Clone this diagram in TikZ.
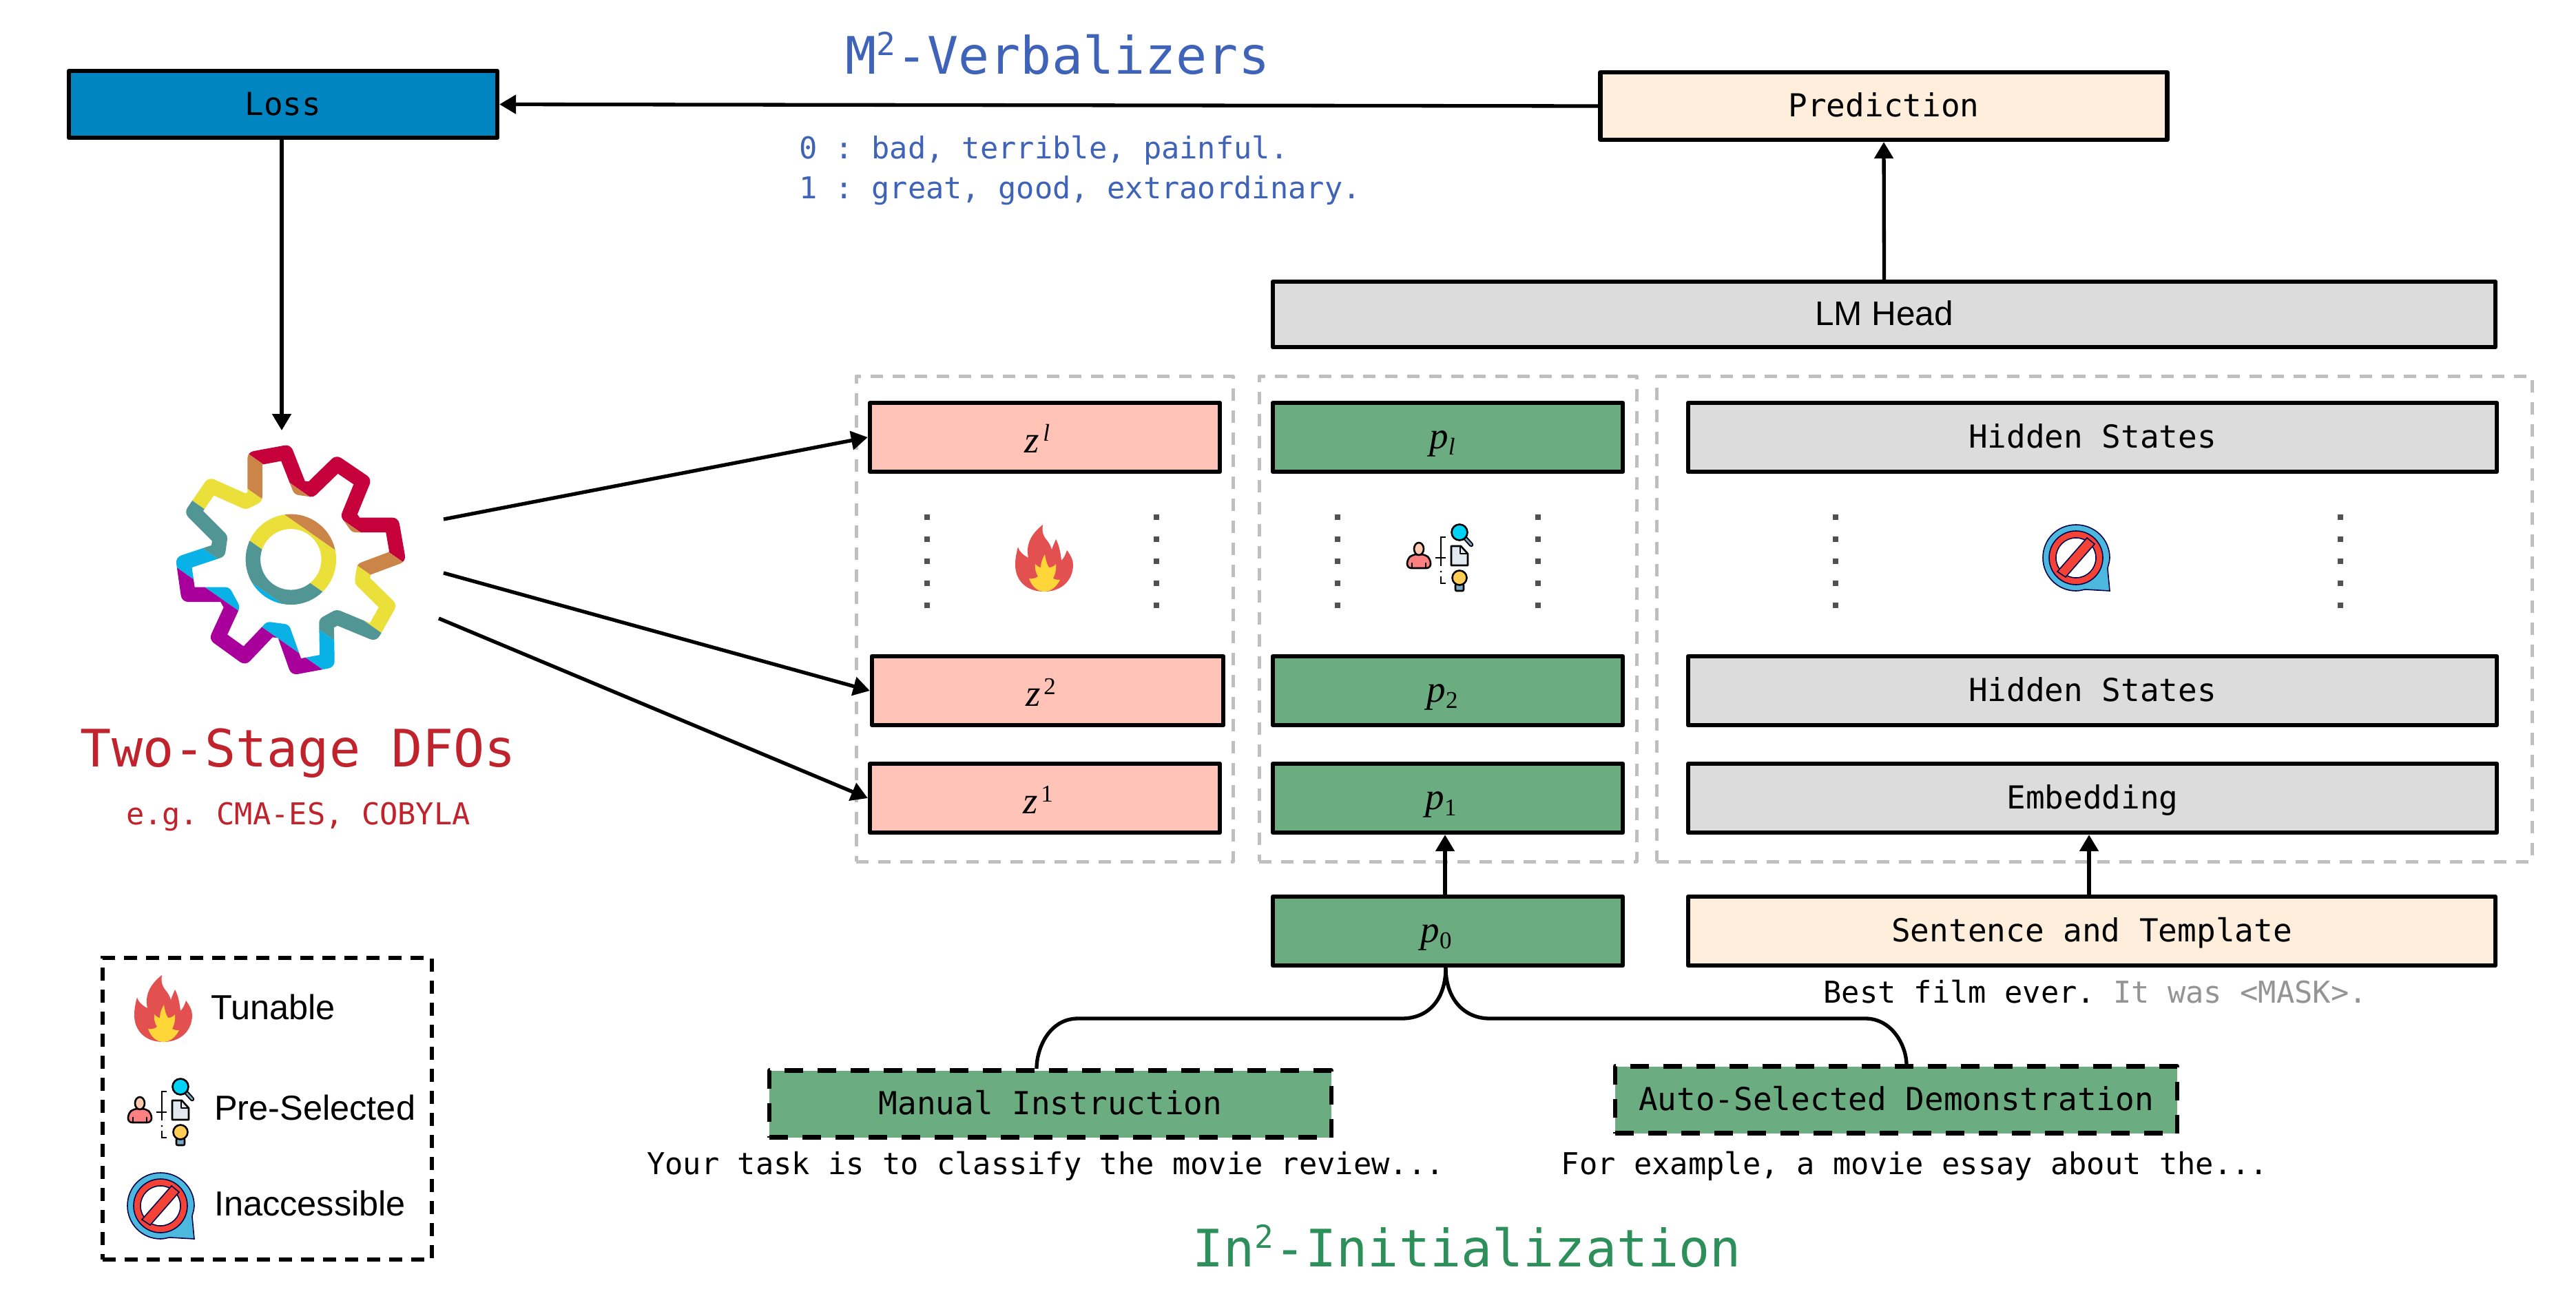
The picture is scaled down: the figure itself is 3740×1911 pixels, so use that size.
\documentclass[tikz,border=0pt]{standalone}
\usepackage{fontspec}
\usetikzlibrary{arrows.meta}
\setmainfont{Liberation Sans}
\newfontfamily\monof{DejaVu Sans Mono}
\newfontfamily\mathf{Liberation Serif}
\newcommand\fs[1]{\fontsize{#1}{#1}\selectfont}
\newcommand\lowsub[1]{\raisebox{-9pt}{\fs{35}#1}}
\newcommand\upsup[1]{\kern5pt\raisebox{17pt}{\fs{35}#1}}
\newcommand\bigtwo{\raisebox{26.5pt}{\fs{46}2}\kern1.3pt}
\newcommand\tallstrut{\rule{0pt}{45pt}}
\frenchspacing
\definecolor{cpink}{HTML}{FFC3B8}
\definecolor{cgreen}{HTML}{6BAD80}
\definecolor{cgray}{HTML}{DCDCDC}
\definecolor{ccream}{HTML}{FFEEDC}
\definecolor{cblue}{HTML}{0085C0}
\definecolor{tblue}{HTML}{3F63B8}
\definecolor{tred}{HTML}{C0232C}
\definecolor{tgreen}{HTML}{2D8F5A}
\definecolor{gcrim}{HTML}{C6003A}
\definecolor{gorange}{HTML}{CC8548}
\definecolor{gyellow}{HTML}{EBDF3A}
\definecolor{gteal}{HTML}{519595}
\definecolor{gcyan}{HTML}{08B2E6}
\definecolor{gpurple}{HTML}{AA009B}
\definecolor{flameR}{HTML}{E25050}
\definecolor{flameY}{HTML}{FFD638}
\definecolor{personB}{HTML}{FF8080}
\definecolor{personH}{HTML}{FFC9B0}
\definecolor{handleB}{HTML}{7FA8C4}
\definecolor{lensB}{HTML}{00D2F5}
\definecolor{docB}{HTML}{E2E8F0}
\definecolor{bulbY}{HTML}{FFCC55}
\definecolor{bubbleB}{HTML}{4DB8DE}
\definecolor{noR}{HTML}{F44336}
\tikzset{
  x=1pt,y=-1pt,
  boxn/.style={draw=black,line width=6.3pt,line join=round,inner sep=0pt,minimum height=100pt,font=\monof\fs{46},text=black},
  monolab/.style={text height=31pt,text depth=0pt},
  pinkbox/.style={boxn,fill=cpink,minimum width=508pt,font=\mathf\fs{55}},
  greenbox/.style={boxn,fill=cgreen,minimum width=508pt,font=\mathf\fs{55}},
  graybox/.style={boxn,monolab,fill=cgray},
  creambox/.style={boxn,monolab,fill=ccream},
  dashbox/.style={boxn,monolab,fill=cgreen,dash pattern=on 27pt off 21pt,line width=6.5pt},
  groupbox/.style={draw=black!25,line width=5pt,line join=round,dash pattern=on 18pt off 14pt,inner sep=0pt},
  legendbox/.style={draw=black,line width=6pt,dash pattern=on 19pt off 13pt,inner sep=0pt},
  link/.style={draw=black,line width=5.3pt,-{Triangle[length=24pt,width=27pt]}},
  plainlink/.style={draw=black,line width=5.3pt},
  txt/.style={inner sep=0pt,font=\monof\fs{43.7}},
  bigtxt/.style={inner sep=0pt,anchor=base west,font=\monof\fs{75}},
  legtxt/.style={inner sep=0pt,anchor=west,font=\fs{50.5}},
  dotm/.style={fill=black!68,draw=none},
  flameicon/.pic={
    \fill[flameR]
      (42,97) .. controls (15,97) and (0,80) .. (0,58) .. controls (0,48) and (2,40) .. (4,32)
      .. controls (6,40) and (12,44) .. (19,48) .. controls (15,30) and (22,14) .. (40,0)
      .. controls (38,12) and (42,18) .. (47,24) .. controls (50,28) and (52,32) .. (53,36)
      .. controls (55,30) and (57,26) .. (59,21) .. controls (64,30) and (66,42) .. (67,52)
      .. controls (71,48) and (73,43) .. (75,37) .. controls (81,45) and (84,52) .. (84,58)
      .. controls (84,80) and (68,97) .. (42,97) -- cycle;
    \fill[flameY]
      (42,97) .. controls (33,97) and (24,90) .. (20,78) .. controls (24,79) and (29,78) .. (33,75)
      .. controls (30,70) and (28,64) .. (29,57) .. controls (32,60) and (35,62) .. (37,62)
      .. controls (37,55) and (40,48) .. (43,43) .. controls (44,50) and (46,58) .. (49,62)
      .. controls (53,62) and (57,60) .. (59,57) .. controls (60,65) and (58,72) .. (55,78)
      .. controls (59,80) and (62,80) .. (65,80) .. controls (60,90) and (52,97) .. (42,97) -- cycle;
  },
  preicon/.pic={
    \filldraw[fill=personB,draw=black,line width=2.6pt,rounded corners=6pt] (1,63) -- (1,50) -- (9,43) -- (27,43) -- (35,50) -- (35,63) -- cycle;
    \draw[black,line width=2pt] (8,63) -- (8,55) (28,63) -- (28,55);
    \filldraw[fill=personH,draw=black,line width=2.6pt] (18,35) ellipse [x radius=7,y radius=9];
    \draw[black,line width=2.4pt] (57,18) -- (50,18) -- (50,60) (42,48) -- (57,48) (50,75) -- (50,85) -- (57,85);
    \fill[black] (50,68) circle (1.5);
    \draw[black,line width=6.5pt,line cap=round] (84,18) -- (94,29);
    \draw[handleB,line width=2.6pt,line cap=round] (84,18) -- (94,29);
    \filldraw[fill=lensB,draw=black,line width=2.6pt] (77,11) circle (11.5);
    \filldraw[fill=docB,draw=black,line width=2.6pt,line join=round] (65,31) -- (79,31) -- (89,42) -- (89,59) -- (65,59) -- cycle;
    \draw[black,line width=2pt,line join=round] (78,31) -- (78,42) -- (89,42);
    \filldraw[fill=handleB,draw=black,line width=2.6pt,rounded corners=2pt] (71,86) -- (71,96) -- (83,96) -- (83,86) -- cycle;
    \filldraw[fill=bulbY,draw=black,line width=2.6pt] (77,77) circle (10.5);
  },
  noicon/.pic={
    \filldraw[fill=bubbleB,draw=black!70!blue,line width=1.6pt]
      (97,96) -- (62,94) .. controls (58,94) and (55,96) .. (48,96)
      .. controls (21,96) and (0,74) .. (0,48) .. controls (0,21) and (21,0) .. (48,0)
      .. controls (75,0) and (97,21) .. (97,48) .. controls (97,55) and (94,60) .. (94,64) -- cycle;
    \filldraw[fill=noR,draw=black!70!blue,line width=1.6pt,even odd rule] (48,48) circle (39) (48,48) circle (29);
    \fill[white] (48,48) circle (28);
    \filldraw[fill=noR,draw=black!70!blue,line width=1.6pt] (21,68) -- (64,19) -- (75,28) -- (33,76) -- cycle;
  }
}
\begin{document}
\begin{tikzpicture}
\useasboundingbox (0,0) rectangle (3740,1911);
\fill[white] (0,0) rectangle (3740,1911);

% dashed groups
\node[groupbox,minimum width=547pt,minimum height=705pt] (g1) at (1516.5,898.5) {};
\node[groupbox,minimum width=548pt,minimum height=705pt] (g2) at (2102,898.5) {};
\node[groupbox,minimum width=1271pt,minimum height=705pt] (g3) at (3040.5,898.5) {};

% boxes
\node[boxn,monolab,fill=cblue,minimum width=622pt,minimum height=97pt] (loss) at (411,151.5) {Loss};
\node[creambox,minimum width=823pt,minimum height=98pt] (pred) at (2735,154) {Prediction};
\node[graybox,minimum width=1775pt,minimum height=95pt,font=\fs{49.5}] (lm) at (2735.5,456.5) {LM Head};

\node[pinkbox] (zl) at (1517,635) {\tallstrut\textit{z}\upsup{\textit{l}}\kern22pt};
\node[pinkbox,minimum width=510pt] (z2) at (1521,1003) {\tallstrut\textit{z}\upsup{2}\kern20pt};
\node[pinkbox] (z1) at (1517,1159) {\tallstrut\textit{z}\upsup{1}\kern20pt};

\node[greenbox] (pl) at (2102,635) {\tallstrut\textit{p}\lowsub{\textit{l}}\kern16pt};
\node[greenbox] (p2) at (2102,1003) {\tallstrut\textit{p}\lowsub{2}\kern16pt};
\node[greenbox] (p1) at (2102,1159) {\tallstrut\textit{p}\lowsub{1}\kern20pt};
\node[greenbox] (p0) at (2102,1352) {\tallstrut\textit{p}\lowsub{0}\kern34pt};

\node[graybox,minimum width=1174pt] (hs2) at (3038,635) {Hidden States};
\node[graybox,minimum width=1174pt] (hs1) at (3038,1003) {Hidden States};
\node[graybox,minimum width=1174pt] (emb) at (3038,1159) {Embedding};
\node[creambox,minimum width=1172pt] (sent) at (3037,1352) {Sentence and Template};

\node[dashbox,minimum width=816pt,minimum height=97pt] (man) at (1525,1603) {Manual Instruction};
\node[dashbox,minimum width=816pt,minimum height=97pt] (auto) at (2753,1597) {Auto-Selected Demonstration};

% dots
\foreach \cx in {1346,1679,1942,2233,2665,3398}
  \foreach \cy in {751,783,815,847,879}
    \fill[dotm] (\cx-4,\cy-4) rectangle (\cx+4,\cy+4);

% icons in the groups
\pic at (1474,762) {flameicon};
\pic at (2042,762) {preicon};
\pic at (2966,762) {noicon};

% gear
\begin{scope}[shift={(200,600)},scale=0.33333]
\foreach \col/\ta/\tb in {gcrim/-2000/-131,gorange/-131/-4,gyellow/-4/176,gteal/176/320,gcyan/320/454,gpurple/454/2000}{
  \begin{scope}
    \clip ({-0.573*\ta+0.819*3000},{0.819*\ta+0.573*3000}) -- ({-0.573*\ta-0.819*3000},{0.819*\ta-0.573*3000})
       -- ({-0.573*\tb-0.819*3000},{0.819*\tb-0.573*3000}) -- ({-0.573*\tb+0.819*3000},{0.819*\tb+0.573*3000}) -- cycle;
    \draw[\col,line width=21.5pt,line join=round]
      (510,197) -- (645,172) -- (705,325) -- (755,332) -- (868,222) -- (980,298) -- (920,445) -- (950,487)
      -- (1108,487) -- (1132,625) -- (985,680) -- (978,730) -- (1090,840) -- (1025,955) -- (868,890)
      -- (822,915) -- (825,1080) -- (690,1105) -- (635,950) -- (575,942) -- (465,1058) -- (350,975)
      -- (410,845) -- (380,790) -- (220,790) -- (200,650) -- (350,600) -- (358,545) -- (243,430)
      -- (320,318) -- (470,385) -- (510,365) -- cycle;
    \draw[\col,line width=21.5pt] (667,637) circle (165);
  \end{scope}
}
\end{scope}

% legend
\node[legendbox,minimum width=478pt,minimum height=438pt] (leg) at (388,1610) {};
\pic at (195,1416) {flameicon};
\pic at (185,1567) {preicon};
\pic at (185,1703) {noicon};
\node[legtxt] (l1) at (306,1462) {Tunable};
\node[legtxt] (l2) at (311,1608) {Pre-Selected};
\node[legtxt] (l3) at (311,1747) {Inaccessible};

% texts
\node[bigtxt,text=tblue] (tv) at (1227,107) {M\bigtwo-Verbalizers};
\node[txt,text=tblue,anchor=base west] (v0) at (1160,230) {0 : bad, terrible, painful.};
\node[txt,text=tblue,anchor=base west] (v1) at (1160,288) {1 : great, good, extraordinary.};
\node[txt,font=\monof\fs{75},text=tred] (td) at (433,1094) {Two-Stage DFOs};
\node[txt,text=tred] (te) at (433,1186) {e.g. CMA-ES, COBYLA};
\node[txt] (best) at (3042,1440) {Best film ever. {\color{black!42}It was <MASK>.}};
\node[txt] (task) at (1518,1693) {Your task is to classify the movie review...};
\node[txt] (exam) at (2780,1693) {For example, a movie essay about the...};
\node[bigtxt,text=tgreen] (ti) at (1731,1839) {In\bigtwo-Initialization};

% connectors
\coordinate (gtop) at (409,625);
\coordinate (gs1) at (644,754);
\coordinate (gs2) at (644,832);
\coordinate (gs3) at (637,898);
\coordinate (mtop) at (1505,1552);
\coordinate (atop) at (2768,1546);
\draw[link] (pred.west) -- (loss.east);
\draw[link] (lm.north) -- (pred.south);
\draw[link] (gtop |- loss.south) -- (gtop);
\draw[link] (gs1) -- (zl.west);
\draw[link] (gs2) -- (z2.west);
\draw[link] (gs3) -- (z1.west);
\draw[link] ([xshift=-4pt]p0.north) -- ([xshift=-4pt]p1.south);
\draw[link] ([xshift=-4pt]sent.north) -- ([xshift=-5pt]emb.south);
\draw[plainlink] ([xshift=-3pt]p0.south) .. controls (2099,1450) and (2075,1479) .. (2035,1479) -- (1565,1479) .. controls (1525,1479) and (1505,1520) .. (mtop);
\draw[plainlink] ([xshift=-3pt]p0.south) .. controls (2099,1450) and (2125,1479) .. (2163,1479) -- (2708,1479) .. controls (2748,1479) and (2768,1520) .. (atop);
\end{tikzpicture}
\end{document}
